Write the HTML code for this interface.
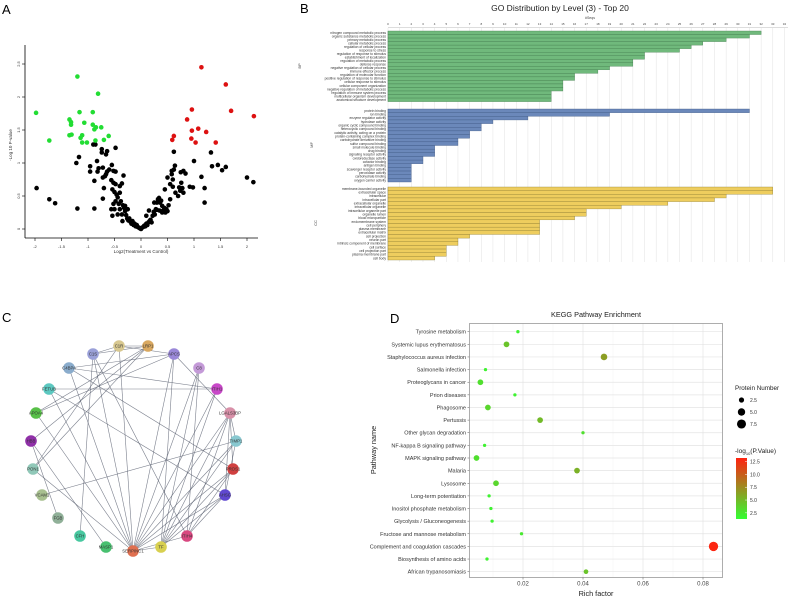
<!DOCTYPE html>
<html><head><meta charset="utf-8"><style>
html,body{margin:0;padding:0;background:#fff;}
svg{display:block;font-family:"Liberation Sans",sans-serif;}
</style></head><body>
<svg id="fig" width="794" height="599" viewBox="0 0 794 599" xmlns="http://www.w3.org/2000/svg">
<text x="2" y="14" font-size="13">A</text>
<text x="300" y="13" font-size="13">B</text>
<text x="2" y="322" font-size="13">C</text>
<text x="390" y="323" font-size="13">D</text>
<g id="pa"></g>
<g id="pb"></g>
<g id="pc"></g>
<g id="pd"></g>
</svg>
<script>
// ---------- Panel A data ----------
const greenPts = [[-1.98,1.76],[-1.20,2.31],[-0.81,2.05],[-1.16,1.77],[-0.91,1.77],[-1.35,1.66],[-1.32,1.62],[-1.32,1.58],[-1.07,1.61],[-0.91,1.58],[-0.85,1.54],[-0.75,1.54],[-0.88,1.51],[-1.35,1.42],[-1.31,1.43],[-1.11,1.42],[-1.14,1.38],[-0.61,1.41],[-1.73,1.34],[-1.11,1.31],[-1.02,1.31],[-0.86,1.34],[-0.70,1.35]];
const redPts = [[1.14,2.45],[1.60,2.19],[1.70,1.79],[2.13,1.71],[0.96,1.81],[0.87,1.66],[0.96,1.49],[1.08,1.52],[1.23,1.47],[0.62,1.41],[0.59,1.35],[0.95,1.37],[1.03,1.31],[1.41,1.31]];
const blackPts = [[-1.97,0.62],[-1.73,0.45],[-1.62,0.39],[-1.20,0.31],[-0.88,0.31],[-1.22,1.0],[-1.17,1.09],[-0.96,0.95],[-0.96,0.87],[-0.88,0.73],[-0.83,1.03],[-0.80,0.92],[-0.82,0.87],[-0.72,0.93],[-0.72,0.78],[-0.70,0.62],[-0.72,0.46],[-0.68,0.80],[-0.66,0.83],[-0.64,0.87],[-0.60,0.90],[-0.66,1.13],[-0.64,1.18],[-0.74,1.16],[-0.74,1.21],[-0.9,1.28],[-0.86,1.28],[-0.48,1.23],[-0.55,0.97],[-0.48,0.87],[-0.52,0.88],[-0.56,0.74],[-0.52,0.70],[-0.48,0.68],[-0.40,0.65],[-0.36,0.69],[-0.33,0.81],[-0.50,0.56],[-0.46,0.52],[-0.54,0.60],[-0.40,0.55],[-0.44,0.48],[-0.38,0.42],[-0.48,0.42],[-0.52,0.38],[-0.42,0.38],[-0.34,0.36],[-0.56,0.30],[-0.50,0.30],[-0.40,0.30],[-0.32,0.32],[-0.30,0.27],[-0.54,0.20],[-0.44,0.22],[-0.36,0.22],[-0.28,0.21],[-0.26,0.16],[-0.24,0.13],[-0.22,0.16],[-0.20,0.11],[-0.18,0.08],[-0.16,0.12],[-0.14,0.06],[-0.12,0.08],[-0.10,0.04],[-0.08,0.06],[-0.06,0.03],[-0.04,0.02],[-0.02,0.01],[0,0],[0.02,0.02],[0.04,0.03],[0.06,0.05],[0.08,0.04],[0.10,0.08],[0.12,0.06],[0.14,0.10],[0.16,0.12],[0.18,0.14],[0.20,0.10],[0.22,0.20],[0.24,0.26],[0.26,0.22],[0.28,0.30],[0.30,0.29],[0.32,0.45],[0.34,0.47],[0.36,0.40],[0.38,0.43],[0.40,0.35],[0.42,0.28],[0.44,0.32],[0.46,0.25],[0.48,0.30],[0.50,0.27],[0.52,0.36],[0.45,0.60],[0.50,0.78],[0.55,0.68],[0.58,0.83],[0.60,0.75],[0.60,0.64],[0.58,0.88],[0.62,0.90],[0.64,0.96],[0.62,1.17],[0.75,0.86],[0.80,0.88],[0.84,0.84],[0.76,0.70],[0.72,0.63],[0.74,0.58],[0.80,0.55],[0.78,0.62],[0.92,0.64],[0.98,0.63],[1.00,1.03],[1.20,0.62],[1.20,0.40],[1.14,0.79],[1.32,1.16],[1.34,0.95],[1.45,0.97],[1.53,0.89],[1.60,0.94],[2.0,0.78],[2.12,0.71],[0.35,0.28],[0.30,0.40],[0.25,0.40],[0.40,0.25],[-0.30,0.35],[-0.25,0.30],[-0.35,0.12],[0.10,0.20],[0.15,0.28],[0.55,0.45],[0.65,0.55],[0.70,0.50]];
const aXTicks = [-2,-1.5,-1,-0.5,0,0.5,1,1.5,2];
const aYTicks = [0,0.5,1,1.5,2,2.5];

// ---------- Panel B data ----------
const bpLabels = ["nitrogen compound metabolic process","organic substance metabolic process","primary metabolic process","cellular metabolic process","regulation of cellular process","response to stress","regulation of response to stimulus","establishment of localization","regulation of metabolic process","defense response","negative regulation of cellular process","immune effector process","regulation of molecular function","positive regulation of response to stimulus","cellular response to stimulus","cellular component organization","negative regulation of metabolic process","regulation of immune system process","multicellular organism development","anatomical structure development"];
const bpValues = [32,31,29,27,26,25,22,22,21,21,19,18,16,16,15,15,15,14,14,14];
const mfLabels = ["protein binding","ion binding","enzyme regulator activity","hydrolase activity","organic cyclic compound binding","heterocyclic compound binding","catalytic activity, acting on a protein","protein-containing complex binding","carbohydrate derivative binding","sulfur compound binding","small molecule binding","drug binding","signaling receptor activity","oxidoreductase activity","cofactor binding","antigen binding","scavenger receptor activity","peroxidase activity","carbohydrate binding","oxygen carrier activity"];
const mfValues = [31,19,12,9,8,8,7,7,6,6,4,4,4,3,3,2,2,2,2,2];
const ccLabels = ["membrane-bounded organelle","extracellular space","intracellular","intracellular part","extracellular organelle","intracellular organelle","intracellular organelle part","organelle lumen","blood microparticle","endomembrane system","cell periphery","plasma membrane","extracellular matrix","cell projection","neuron part","intrinsic component of membrane","cell surface","cell projection part","plasma membrane part","cell body"];
const ccValues = [33,33,29,28,24,20,17,17,16,13,13,13,13,7,6,6,5,5,5,4];
const bTicks = [0,1,2,3,4,5,6,7,8,9,10,11,12,13,14,15,16,17,18,19,20,21,22,23,24,25,26,27,28,29,30,31,32,33,34];

// ---------- Panel D data ----------
const pathways = ["Tyrosine metabolism","Systemic lupus erythematosus","Staphylococcus aureus infection","Salmonella infection","Proteoglycans in cancer","Prion diseases","Phagosome","Pertussis","Other glycan degradation","NF-kappa B signaling pathway","MAPK signaling pathway","Malaria","Lysosome","Long-term potentiation","Inositol phosphate metabolism","Glycolysis / Gluconeogenesis","Fructose and mannose metabolism","Complement and coagulation cascades","Biosynthesis of amino acids","African trypanosomiasis"];
const richFactor = [0.0183,0.0145,0.047,0.0075,0.0058,0.0173,0.0083,0.0257,0.040,0.0072,0.0045,0.038,0.011,0.0087,0.0093,0.0097,0.0195,0.0835,0.0080,0.041];
const proteinCount = [1,3,4,1,3,1,3,3,1,1,3,3,3,1,1,1,1,8,1,2];
const negLogP = [2.0,4.5,6.5,2.0,3.0,2.0,3.5,5.0,3.0,2.0,3.0,5.5,3.5,2.0,2.0,2.0,2.5,13.0,2.0,4.5];
const dXTicks = [0.02,0.04,0.06,0.08];
const sizeLegend = [2.5,5.0,7.5];
const colorTicks = [12.5,10.0,7.5,5.0,2.5];

const NS="http://www.w3.org/2000/svg";
function mk(parent,tag,attrs,text){const e=document.createElementNS(NS,tag);for(const k in attrs)e.setAttribute(k,attrs[k]);if(text!==undefined)e.textContent=text;parent.appendChild(e);return e;}

// ===== Panel A =====
(function(){
const g=document.getElementById('pa');
const xA=v=>141+v*53, yA=v=>229-v*66;
mk(g,'line',{x1:25,y1:45,x2:25,y2:238,stroke:'#000','stroke-width':0.8});
mk(g,'line',{x1:25,y1:238,x2:258,y2:238,stroke:'#000','stroke-width':0.8});
aXTicks.forEach(t=>{mk(g,'line',{x1:xA(t),y1:238,x2:xA(t),y2:241,stroke:'#000','stroke-width':0.6});
 const e=mk(g,'text',{x:xA(t),y:248,'font-size':4,'text-anchor':'middle',fill:'#333'},String(t));
 });
aYTicks.forEach(t=>{mk(g,'line',{x1:22,y1:yA(t),x2:25,y2:yA(t),stroke:'#000','stroke-width':0.6});
 const e=mk(g,'text',{x:20,y:yA(t),'font-size':4,'text-anchor':'middle',fill:'#333',transform:`rotate(-90 20 ${yA(t)})`},String(t));
 });
let e=mk(g,'text',{x:12,y:145,'font-size':4.5,'text-anchor':'middle',transform:'rotate(-90 12 145)',fill:'#333'},'-Log 10 P-value');

e=mk(g,'text',{x:141,y:253,'font-size':4.5,'text-anchor':'middle',fill:'#333'},'Log2(Treatment vs Control)');

[[blackPts,'#000','point-ns'],[greenPts,'#22dd33','point-down'],[redPts,'#dd1111','point-up']].forEach(([arr,c,n])=>{
 arr.forEach(p=>{const d=mk(g,'circle',{cx:xA(p[0]),cy:yA(p[1]),r:2.3,fill:c});
 });});
})();

// ===== Panel B =====
(function(){
const g=document.getElementById('pb');
const xB=v=>388+v*11.66;
let e=mk(g,'text',{x:560,y:11,'font-size':8.5,'text-anchor':'middle',fill:'#222'},'GO Distribution by Level (3) - Top 20');

e=mk(g,'text',{x:590,y:19,'font-size':3.5,'text-anchor':'middle',fill:'#444'},'#Seqs');

mk(g,'line',{x1:388,y1:27.5,x2:788,y2:27.5,stroke:'#bbb','stroke-width':0.5});
bTicks.forEach(t=>{mk(g,'line',{x1:xB(t),y1:28,x2:xB(t),y2:262,stroke:'#e2e2e2','stroke-width':0.5});
 const e=mk(g,'text',{x:xB(t),y:25,'font-size':3,'text-anchor':'middle',fill:'#444'},String(t));
 });
const groups=[[bpLabels,bpValues,31,3.53,'#70b97c','#3f7a4a','BP',301,66,'bp'],[mfLabels,mfValues,109,3.65,'#6b88ba','#3b5580','MF',313,145,'mf'],[ccLabels,ccValues,187,3.65,'#eecd5e','#8a7a30','CC',317,223,'cc']];
groups.forEach(([labs,vals,y0,h,fill,st,name,lx,ly,key])=>{
 mk(g,'line',{x1:388,y1:y0,x2:388,y2:y0+h*20,stroke:'#888','stroke-width':0.5});
 const c=mk(g,'text',{x:lx,y:ly,'font-size':4,'text-anchor':'middle',fill:'#444',transform:`rotate(-90 ${lx} ${ly})`},name);
 
 vals.forEach((v,i)=>{const r=mk(g,'rect',{x:xB(0),y:y0+i*h,width:xB(v)-xB(0),height:h,fill:fill,stroke:st,'stroke-width':0.35});
  
  const t=mk(g,'text',{x:386,y:y0+i*h+h*0.8,'font-size':3.3,'text-anchor':'end',fill:'#333'},labs[i]);
  });
});
})();

// ===== Panel C =====
(function(){
const g=document.getElementById('pc');
const nodes={C1R:[119,346,'#d8c890'],LRP1:[148,346,'#d9a860'],C1S:[93,354,'#9aa0d8'],APCS:[174,354,'#9a88d8'],C8:[199,368,'#c49ad8'],C4BPA:[69,368,'#8aaccc'],FETUB:[49,389,'#5cc8c0'],ITIH1:[217,389,'#c848c8'],APOA4:[36,413,'#58c048'],LGALS3BP:[230,413,'#d890a8'],HBB:[31,441,'#9030a8'],TIMP1:[236,441,'#88c8d0'],PON1:[33,469,'#90c8b8'],PROS1:[233,469,'#d04040'],VCAM1:[42,495,'#a8c090'],AHSG:[225,495,'#6048d0'],FGB:[58,518,'#90b098'],ITIH4:[187,536,'#d84880'],CFH:[80,536,'#48c8a0'],MASP1:[106,547,'#48c070'],SERPINC1:[133,551,'#e07050'],TF:[161,547,'#d8d050']};
const edges=[['C1R','LRP1'],['C1R','C1S'],['C1S','LRP1'],['LRP1','APOA4'],['LRP1','HBB'],['APCS','APOA4'],['APCS','C1R'],['C1R','SERPINC1'],['C1S','SERPINC1'],['C1S','CFH'],['C4BPA','PROS1'],['C4BPA','ITIH1'],['C4BPA','SERPINC1'],['FETUB','ITIH1'],['FETUB','AHSG'],['FETUB','SERPINC1'],['APOA4','SERPINC1'],['HBB','MASP1'],['HBB','FGB'],['PON1','SERPINC1'],['PON1','C1R'],['VCAM1','TIMP1'],['C8','SERPINC1'],['C8','TF'],['C8','ITIH4'],['APCS','TF'],['APCS','SERPINC1'],['ITIH1','SERPINC1'],['ITIH1','TF'],['LGALS3BP','TIMP1'],['LGALS3BP','PROS1'],['LGALS3BP','AHSG'],['LGALS3BP','TF'],['LGALS3BP','SERPINC1'],['LGALS3BP','ITIH4'],['TIMP1','AHSG'],['TIMP1','SERPINC1'],['TIMP1','TF'],['PROS1','SERPINC1'],['PROS1','TF'],['PROS1','ITIH4'],['AHSG','SERPINC1'],['AHSG','TF'],['AHSG','ITIH4'],['ITIH4','SERPINC1'],['TF','SERPINC1'],['C1S','ITIH4'],['LRP1','PON1'],['C4BPA','APCS'],['APCS','LGALS3BP']];
edges.forEach(([a,b])=>{const l=mk(g,'line',{x1:nodes[a][0],y1:nodes[a][1],x2:nodes[b][0],y2:nodes[b][1],stroke:'#5a6070','stroke-width':0.6,'stroke-opacity':0.8});
 });
for(const k in nodes){const [x,y,c]=nodes[k];
 const n=mk(g,'circle',{cx:x,cy:y,r:5.8,fill:c});
 
 const t=mk(g,'text',{x:x,y:y+1.6,'font-size':4.3,'text-anchor':'middle',fill:'#333'},k);
 }
})();

// ===== Panel D =====
(function(){
const g=document.getElementById('pd');
const L=469.5,R=722.5,T=323.5,B=577.5;
const xD=v=>463+v*3000, yD=i=>331.7+i*12.63;
const rD=n=>1.65*Math.sqrt(n);
function col(p){const t=Math.max(0,Math.min(1,(p-1.3)/(13.2-1.3)));const a=[0x33,0xff,0x33],b=[0xff,0x22,0x10];return `rgb(${a.map((v,i)=>Math.round(v+(b[i]-v)*t)).join(',')})`;}
let e=mk(g,'text',{x:596,y:317,'font-size':7.3,'text-anchor':'middle',fill:'#222'},'KEGG Pathway Enrichment');

[0.01,0.03,0.05,0.07].forEach(t=>mk(g,'line',{x1:xD(t),y1:T,x2:xD(t),y2:B,stroke:'#f2f2f2','stroke-width':0.5}));
dXTicks.forEach(t=>mk(g,'line',{x1:xD(t),y1:T,x2:xD(t),y2:B,stroke:'#e4e4e4','stroke-width':0.7}));
pathways.forEach((p,i)=>{mk(g,'line',{x1:L,y1:yD(i),x2:R,y2:yD(i),stroke:'#e4e4e4','stroke-width':0.7});
 mk(g,'line',{x1:L-2,y1:yD(i),x2:L,y2:yD(i),stroke:'#555','stroke-width':0.5});
 const t=mk(g,'text',{x:L-3.5,y:yD(i)+2,'font-size':5.5,'text-anchor':'end',fill:'#333'},p);
 });
const box=mk(g,'rect',{x:L,y:T,width:R-L,height:B-T,fill:'none',stroke:'#999','stroke-width':0.8});

dXTicks.forEach(t=>{mk(g,'line',{x1:xD(t),y1:B,x2:xD(t),y2:B+2,stroke:'#555','stroke-width':0.5});
 const e=mk(g,'text',{x:xD(t),y:B+8,'font-size':6,'text-anchor':'middle',fill:'#444'},String(t));
 });
e=mk(g,'text',{x:596,y:596,'font-size':7.3,'text-anchor':'middle',fill:'#222'},'Rich factor');

e=mk(g,'text',{x:376,y:450,'font-size':7.3,'text-anchor':'middle',fill:'#222',transform:'rotate(-90 376 450)'},'Pathway name');

pathways.forEach((p,i)=>{const c=mk(g,'circle',{cx:xD(richFactor[i]),cy:yD(i),r:rD(proteinCount[i]),fill:col(negLogP[i])});
 });
e=mk(g,'text',{x:735,y:390,'font-size':6.3,fill:'#222'},'Protein Number');

sizeLegend.forEach((s,i)=>{const y=400+i*12;
 const c=mk(g,'circle',{cx:741.5,cy:y,r:rD(s),fill:'#000'});
 
 const t=mk(g,'text',{x:750,y:y+2,'font-size':5,fill:'#333'},s.toFixed(1));
 });
e=mk(g,'text',{x:735,y:453,'font-size':6.5,fill:'#222'});
e.innerHTML='-log<tspan font-size="4" dy="2">10</tspan><tspan dy="-2">(P.Value)</tspan>';

const defs=mk(g,'defs',{});const lg=mk(defs,'linearGradient',{id:'cg',x1:0,y1:1,x2:0,y2:0});
[1.3,4,7,10,13.2].forEach(v=>mk(lg,'stop',{offset:(v-1.3)/(13.2-1.3),'stop-color':col(v)}));
const cbT=458,cbB=519,cy=v=>cbB-(v-1.3)/(13.2-1.3)*(cbB-cbT);
const cb=mk(g,'rect',{x:736,y:cbT,width:11,height:cbB-cbT,fill:'url(#cg)'});

colorTicks.forEach(v=>{mk(g,'line',{x1:745,y1:cy(v),x2:747,y2:cy(v),stroke:'#fff','stroke-width':0.5});
 const t=mk(g,'text',{x:750,y:cy(v)+2,'font-size':5,fill:'#333'},v.toFixed(1));
 });
})();
</script>
</body></html>
